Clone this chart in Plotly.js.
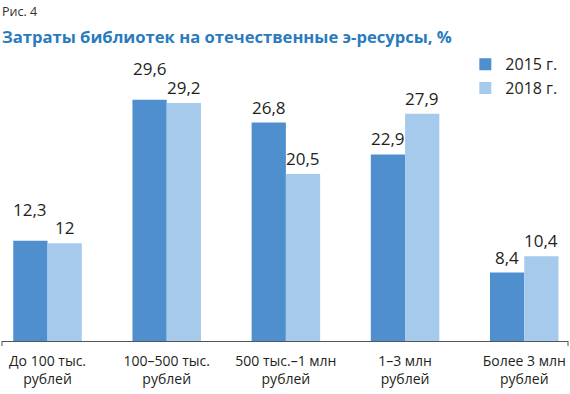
<!DOCTYPE html>
<html><head><meta charset="utf-8">
<script src="https://cdn.plot.ly/plotly-3.0.1.min.js"></script>
<style>html,body{margin:0;padding:0;background:#fff}#chart{width:570px;height:394px}</style>
</head><body><div id="chart"></div>
<script>
const categories = ["До 100 тыс.<br>рублей", "100–500 тыс.<br>рублей", "500 тыс.–1 млн<br>рублей", "1–3 млн<br>рублей", "Более 3 млн<br>рублей"];
const series2015 = [12.3, 29.6, 26.8, 22.9, 8.4];
const series2018 = [12.0, 29.2, 20.5, 27.9, 10.4];
const seriesNames = ["2015 г.", "2018 г."];

const dark = "#4f8fce", light = "#a6caec", txt = "#231f20";
const fmt = v => String(v).replace('.', ',');
const idx = categories.map((c, i) => i);

const traces = [
  {type: 'bar', x: idx, y: series2015, name: seriesNames[0], marker: {color: dark}, hoverinfo: 'none'},
  {type: 'bar', x: idx, y: series2018, name: seriesNames[1], marker: {color: light}, hoverinfo: 'none'}
];

const half = 0.144;
const annotations = [];
idx.forEach(i => {
  const a = series2015[i], b = series2018[i];
  const close = Math.abs(a - b) < 1;
  annotations.push({x: i - half, y: a, xref: 'x', yref: 'y', text: fmt(a), showarrow: false,
    yanchor: 'bottom', yshift: close ? 18 : 2, font: {size: 17, color: txt, family: 'Open Sans'}});
  annotations.push({x: i + half, y: b, xref: 'x', yref: 'y', text: fmt(b), showarrow: false,
    yanchor: 'bottom', yshift: 2, font: {size: 17, color: txt, family: 'Open Sans'}});
});
annotations.push({xref: 'paper', yref: 'paper', x: -0.003, y: 1.313, xanchor: 'left', yanchor: 'middle', showarrow: false,
  text: 'Рис. 4', font: {size: 12.5, color: '#333', family: 'Open Sans'}});
annotations.push({xref: 'paper', yref: 'paper', x: -0.003, y: 1.215, xanchor: 'left', yanchor: 'middle', showarrow: false,
  text: '<b>Затраты библиотек на отечественные э-ресурсы, %</b>', font: {size: 16.6, color: '#2a7bbd', family: 'Open Sans'}});

const layout = {
  width: 570, height: 394,
  margin: {l: 2, r: 2, t: 90, b: 53},
  paper_bgcolor: '#fff', plot_bgcolor: '#fff',
  barmode: 'group', bargap: 0.425, bargroupgap: 0,
  showlegend: true,
  legend: {x: 0.99, xanchor: 'right', y: 1.17, yanchor: 'top', font: {size: 16, color: txt, family: 'Open Sans'},
    itemwidth: 30, tracegroupgap: 0, bgcolor: 'rgba(0,0,0,0)'},
  xaxis: {range: [-0.382, 4.367], tickvals: idx, ticktext: categories, showgrid: false, zeroline: false,
    showline: true, linecolor: '#555', linewidth: 1, ticks: '', ticklabelstandoff: 7,
    tickfont: {size: 14, color: txt, family: 'Open Sans'}},
  yaxis: {range: [0, 30.8], visible: false, showgrid: false, zeroline: false},
  shapes: [
    {type: 'line', xref: 'paper', yref: 'paper', x0: 0, x1: 0, y0: 0, y1: -0.02, line: {color: '#555', width: 1}},
    {type: 'line', xref: 'paper', yref: 'paper', x0: 1, x1: 1, y0: 0, y1: -0.02, line: {color: '#555', width: 1}}
  ],
  annotations: annotations,
  font: {family: 'Open Sans'}
};
Plotly.newPlot('chart', traces, layout, {displayModeBar: false, staticPlot: true});
</script></body></html>
